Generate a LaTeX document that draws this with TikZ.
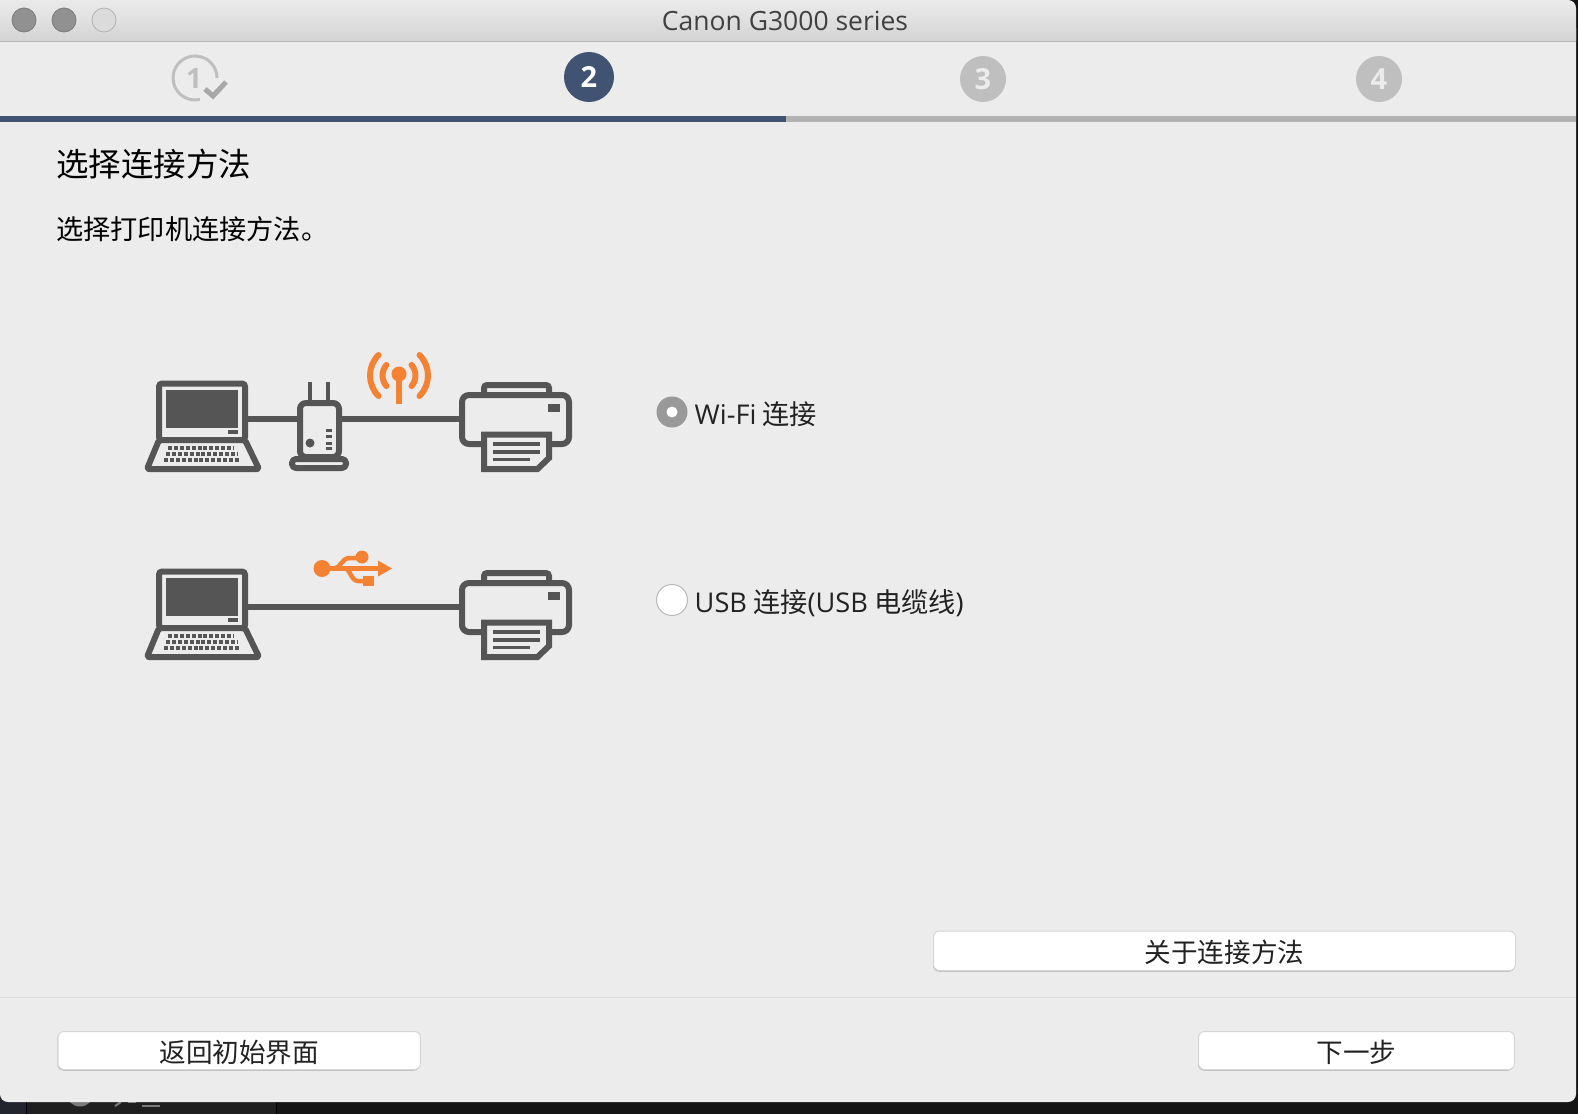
\documentclass[tikz,border=0pt]{standalone}
\usepackage{fontspec}
\setmainfont{Open Sans}
\newfontfamily\cjk{Noto Sans CJK SC}
\definecolor{winbg}{HTML}{ECECEC}
\definecolor{ink}{HTML}{555555}
\definecolor{orng}{HTML}{F58233}
\definecolor{navy}{HTML}{415372}
\definecolor{stepgrey}{HTML}{BFBFBF}
\definecolor{txt}{HTML}{222222}
\tikzset{
  x=1pt,y=-1pt,
  inkline/.style={draw=ink,line width=6pt},
  devbox/.style={draw=ink,line width=6pt,fill=winbg,rounded corners=5pt},
  keyrow/.style={ink,line width=4.5pt,dash pattern=on 4pt off 1.9pt},
  txtnode/.style={inner sep=0pt,text=txt,font=\cjk\fontsize{27.2}{30}\selectfont},
  btntext/.style={inner sep=0pt,yshift=-1.5pt,text=txt,font=\cjk\fontsize{26.6}{30}\selectfont},
  uibutton/.style={draw=black!16,line width=1pt,fill=white,rounded corners=6pt,inner sep=0pt,anchor=north west},
  btnshadow/.style={black!32,rounded corners=6pt},
  stepdot/.style={circle,inner sep=0pt,minimum size=46pt,fill=stepgrey,text=winbg,font=\bfseries\fontsize{29}{30}\selectfont},
  light/.style={circle,inner sep=0pt,minimum size=24pt,line width=.8pt},
  radio/.style={circle,inner sep=0pt,minimum size=31pt},
  laptop/.pic={
    \draw[devbox,rounded corners=3pt] (159,383.5) rectangle (245,440);
    \fill[ink] (166,390) rectangle (238,428);
    \fill[ink] (228,430) rectangle (238,434);
    \draw[inkline,fill=winbg,line join=round,rounded corners=2pt] (159,440) -- (147,469) -- (259,469) -- (245,440) -- cycle;
    \draw[keyrow] (168,448) -- (233,448);
    \draw[keyrow] (166,454) -- (237,454);
    \draw[keyrow] (164,460) -- (240,460);
    \coordinate (-east) at (247,419);
  },
  printer/.pic={
    \draw[devbox,rounded corners=3pt] (484,385) rectangle (549,396);
    \draw[devbox,rounded corners=7pt] (462,395) rectangle (569,444);
    \fill[ink] (548,404) rectangle (560,412);
    \draw[inkline,fill=winbg,line join=miter] (484,434.5) -- (549,434.5) -- (549,458) -- (537.5,469) -- (484,469) -- cycle;
    \draw[ink,line width=3.6pt] (493,444) -- (540,444);
    \draw[ink,line width=3.6pt] (493,452) -- (540,452);
    \draw[ink,line width=3.6pt] (493,459.5) -- (530,459.5);
    \coordinate (-west) at (460,419);
  },
}
\begin{document}
\begin{tikzpicture}
\useasboundingbox (0,0) rectangle (1578,1114);
% desktop behind the window
\fill[black!92] (0,0) rectangle (1578,1114);
\fill[fill=black] (0,1090) rectangle (277,1114);
\fill[fill={rgb,255:red,35;green,37;blue,46}] (0,1090) rectangle (25.5,1114);
\fill[fill={rgb,255:red,31;green,31;blue,31}] (27,1090) rectangle (276,1114);
\fill[black!52] (80,1092.5) circle (14);
\draw[black!52,line width=2pt] (115,1106) -- (121,1102);
\draw[black!52,line width=2pt] (136,1102) -- (128,1102);
\draw[black!52,line width=2pt] (142,1105.5) -- (160,1105.5);
% window
\fill[winbg,rounded corners=8pt] (0,20) rectangle (1576,1102);
\fill[winbg] (0,20) rectangle (8,1094);
\shade[top color=black!8,bottom color=black!17,rounded corners=8pt] (0,41) [sharp corners] -- (0,0) [rounded corners=8pt] -- (1576,0) [sharp corners] -- (1576,41) -- cycle;
\draw[black!30,line width=1pt] (0,41.5) -- (1576,41.5);
\node[light,fill=black!43,draw=black!52] (tl1) at (24,20) {};
\node[light,fill=black!43,draw=black!52] (tl2) at (64,20) {};
\node[light,fill=black!14,draw=black!30] (tl3) at (104,20) {};
\node[inner sep=0pt,text=black!75,font=\fontsize{26.5}{28}\selectfont] (title) at (785,21) {Canon G3000 series};
% steps
\draw[stepgrey,line width=3pt] (200,99.4) arc[start angle=77,end angle=360,radius=22];
\node[inner sep=0pt,text=stepgrey,font=\bfseries\fontsize{28}{30}\selectfont] (s1) at (194,79) {1};
\draw[black!34,line width=5pt] (205,89) -- (213,96) -- (226,82);
\node[stepdot,fill=navy,text=white,minimum size=50pt] (s2) at (589,77) {2};
\node[stepdot] (s3) at (983,79) {3};
\node[stepdot] (s4) at (1379,79) {4};
\fill[black!30] (786,116) rectangle (1576,122);
\fill[navy] (0,116) rectangle (786,122);
% headings
\node[txtnode,anchor=west,text=black,font=\cjk\fontsize{32.5}{36}\selectfont] (h1) at (56,164.5) {选择连接方法};
\node[txtnode,anchor=west,text=black] (h2) at (56,229) {选择打印机连接方法。};
% row 1
\pic (lapa) at (0,0) {laptop};
\pic (pra) at (0,0) {printer};
\draw[ink,line width=4pt] (310,382) -- (310,402);
\draw[ink,line width=4pt] (328,382) -- (328,402);
\node[draw=ink,line width=6pt,fill=winbg,rounded corners=6pt,inner sep=0pt,minimum width=39pt,minimum height=54pt] (router) at (319.5,430) {};
\node[draw=ink,line width=6pt,line join=round,fill=winbg,rounded corners=4pt,inner sep=0pt,minimum width=54pt,minimum height=9pt] (rbase) at (319,463.5) {};
\fill[ink] (310,443) circle (4.5);
\fill[ink] (326,428.5) rectangle (332,431.5);
\fill[ink] (326,435) rectangle (332,438);
\fill[ink] (326,441.5) rectangle (332,444.5);
\fill[ink] (326,447) rectangle (332,450);
\draw[ink,line width=6pt] (lapa-east) -- (router.west |- lapa-east);
\draw[ink,line width=6pt] (router.east |- lapa-east) -- (pra-west);
% wifi symbol
\fill[orng] (399,374) circle (7.5);
\draw[orng,line width=6.5pt] (399,374) -- (399,404);
\draw[orng,line width=6pt,line cap=round] (419.5,355) arc[start angle=-45,end angle=45,radius=29];
\draw[orng,line width=6pt,line cap=round] (378.5,355) arc[start angle=-135,end angle=-225,radius=29];
\draw[orng,line width=6pt,line cap=round] (411.6,364.9) arc[start angle=-40,end angle=40,radius=16.5];
\draw[orng,line width=6pt,line cap=round] (386.4,364.9) arc[start angle=-140,end angle=-220,radius=16.5];
% row 2
\pic (lapb) at (0,188) {laptop};
\pic (prb) at (0,188) {printer};
\draw[ink,line width=6pt] (lapb-east) -- (prb-west);
% usb symbol
\fill[orng] (322,568.5) circle (8.5);
\draw[orng,line width=4.5pt] (322,568.5) -- (381,568.5);
\fill[orng] (378,560.5) -- (392,568.5) -- (378,576.5) -- cycle;
\draw[orng,line width=4.5pt] (334,568.5) .. controls (341,568.5) and (341,558) .. (350,558) -- (362,558);
\fill[orng] (362,557) circle (6.5);
\draw[orng,line width=4.5pt] (345,568.5) .. controls (350,568.5) and (351,581) .. (358,581) -- (365,581);
\fill[orng] (363,576) rectangle (374,586);
% radios
\node[radio,fill=black!40] (rad1) at (672,412) {};
\fill[white] (rad1) circle (5.5);
\node[radio,fill=white,draw=black!28,line width=1pt] (rad2) at (672,600) {};
\node[txtnode,anchor=base west] (t1) at (694.5,424.5) {{\rmfamily Wi-Fi} 连接};
\node[txtnode,anchor=base west] (t2) at (694.5,612) {{\rmfamily USB} 连接{\rmfamily (USB} 电缆线{\rmfamily )}};
% buttons
\fill[btnshadow] (933,932) rectangle (1515,971.5);
\node[uibutton,minimum width=582pt,minimum height=39.5pt] (about) at (933,930.5) {};
\node[btntext] at (about.center) {关于连接方法};
\draw[black!15,line width=1pt] (0,997.5) -- (1576,997.5);
\fill[btnshadow] (57.5,1032) rectangle (420,1070.5);
\node[uibutton,minimum width=362.5pt,minimum height=38pt] (back) at (57.5,1031) {};
\node[btntext] at (back.center) {返回初始界面};
\fill[btnshadow] (1198,1032) rectangle (1514,1070.5);
\node[uibutton,minimum width=316pt,minimum height=38pt] (next) at (1198,1031) {};
\node[btntext] at (next.center) {下一步};
\end{tikzpicture}
\end{document}
